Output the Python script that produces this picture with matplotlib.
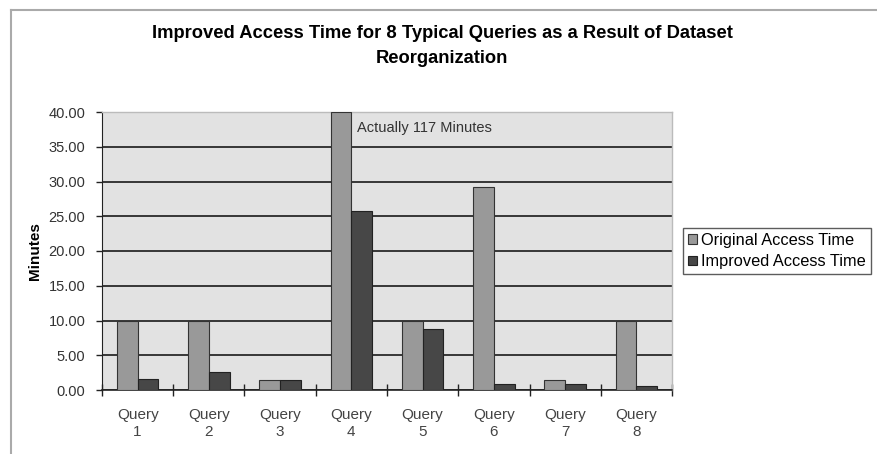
import matplotlib
matplotlib.use("Agg")
import matplotlib.pyplot as plt
import numpy as np
from matplotlib.lines import Line2D

categories = ["Query\n1", "Query\n2", "Query\n3", "Query\n4", "Query\n5", "Query\n6", "Query\n7", "Query\n8"]
original = [10.0, 10.0, 1.5, 40.0, 10.0, 29.2, 1.5, 10.0]
improved = [1.6, 2.6, 1.5, 25.8, 8.8, 0.8, 0.8, 0.6]
yticks = [0, 5, 10, 15, 20, 25, 30, 35, 40]

plt.rcParams['font.family'] = ['Liberation Sans', 'DejaVu Sans']

fig = plt.figure(figsize=(8.77, 4.54), dpi=100)
fig.patch.set_facecolor("white")
ax = fig.add_axes([102/877, 1-390/454, 570/877, 278/454])
ax.set_facecolor("#e2e2e2")

x = np.arange(len(categories))
w = 0.29
ax.bar(x - w/2, original, w, color="#999999", edgecolor="#333333", linewidth=0.8,
       label="Original Access Time", zorder=3)
ax.bar(x + w/2, improved, w, color="#474747", edgecolor="#222222", linewidth=0.8,
       label="Improved Access Time", zorder=3)

ax.set_xlim(-0.5, len(categories) - 0.5)
ax.set_ylim(0, 40)
ax.set_yticks(yticks)
ax.set_yticklabels([f"{v:.2f}" for v in yticks], fontsize=10.5, color="#333333")
ax.yaxis.grid(True, color="#2a2a2a", linewidth=1.3, zorder=1)
ax.set_axisbelow(True)

ax.set_xticks(np.arange(-0.5, len(categories) + 0.5, 1))
ax.set_xticklabels([])
ax.set_xticks(x, minor=True)
ax.set_xticklabels(categories, minor=True, fontsize=11, color="#444444", linespacing=1.25)
ax.tick_params(axis='x', which='minor', length=0, pad=13)
ax.tick_params(axis='x', which='major', direction='inout', length=8, width=1, color="#222222")
ax.tick_params(axis='y', direction='out', length=4, width=1, color="#222222", pad=8)

for s in ["top", "right"]:
    ax.spines[s].set_color("#bbbbbb")
    ax.spines[s].set_linewidth(1)
ax.spines["left"].set_color("#222222")
ax.spines["bottom"].set_color("#222222")
ax.spines["bottom"].set_linewidth(1.2)

ax.set_ylabel("Minutes", fontsize=11, fontweight="bold", labelpad=5)

ax.text(3.08, 37.7, "Actually 117 Minutes", fontsize=10.5, color="#333333",
        ha="left", va="center", zorder=4)

fig.suptitle("Improved Access Time for 8 Typical Queries as a Result of Dataset\nReorganization",
             x=442/877, y=1-25/454, fontsize=13.2, fontweight="bold", va="top", linespacing=1.6)

leg = ax.legend(loc="center left", bbox_to_anchor=(683/877, 1-251/454), bbox_transform=fig.transFigure,
                fontsize=11.8, frameon=True, fancybox=False, edgecolor="#333333",
                handlelength=0.55, handleheight=0.55, handletextpad=0.25, borderpad=0.3,
                labelspacing=0.4, borderaxespad=0)
leg.get_frame().set_linewidth(1.0)

fig.add_artist(Line2D([11/877, 11/877], [0, 1-10/454], transform=fig.transFigure, color="#aaaaaa", lw=1.5))
fig.add_artist(Line2D([11/877, 1], [1-10/454, 1-10/454], transform=fig.transFigure, color="#aaaaaa", lw=1.5))

fig.savefig("out.png", dpi=100)
